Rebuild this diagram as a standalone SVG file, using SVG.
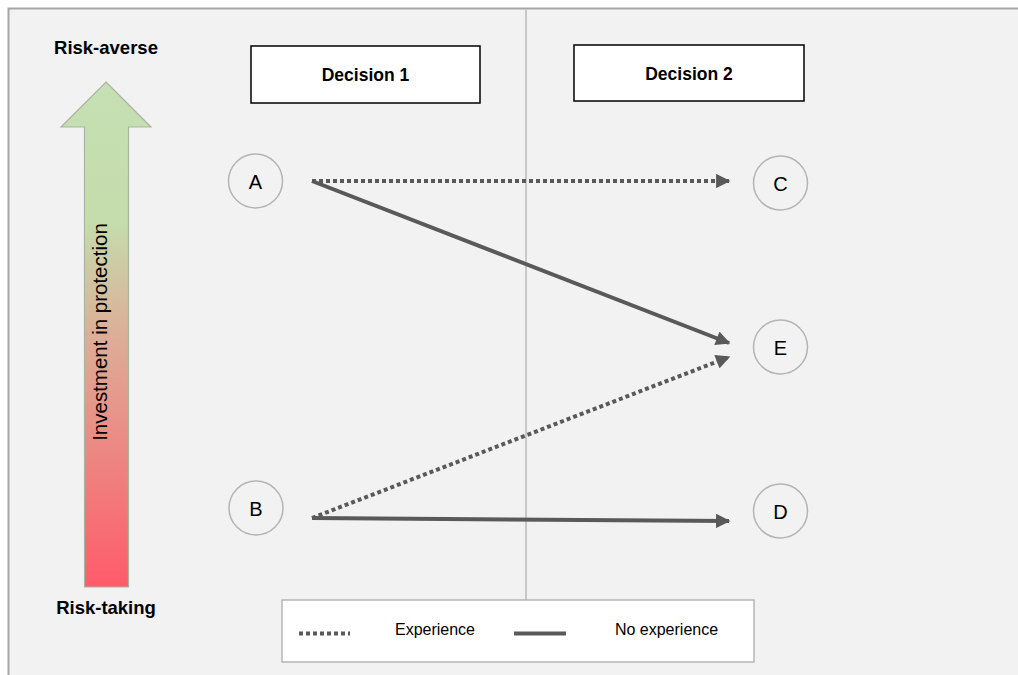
<svg xmlns="http://www.w3.org/2000/svg" width="1018" height="675" viewBox="0 0 1018 675">
<defs>
<style>
.t{font-family:"Liberation Sans","DejaVu Sans",sans-serif;fill:#000}
.b{font-weight:bold}
.node circle{fill:#f2f2f2;stroke:#b4b4b4;stroke-width:1.5}
.node text{font-family:"Liberation Sans",sans-serif;font-size:20px;text-anchor:middle;fill:#000}
.hdr rect{fill:#fff;stroke:#000;stroke-width:1.5}
.c{stroke:#595959;stroke-width:4;fill:none}
.d{stroke-dasharray:4 3}
</style>
<linearGradient id="g" x1="0" y1="0" x2="0" y2="1">
<stop offset="0" stop-color="#c5e0b4"/>
<stop offset="0.28" stop-color="#c5dcab"/>
<stop offset="0.5" stop-color="#dcae98"/>
<stop offset="1" stop-color="#ff5b6a"/>
</linearGradient>
<marker id="ah" viewBox="0 0 10 10" refX="9" refY="5" markerWidth="4" markerHeight="3.6" orient="auto" markerUnits="strokeWidth">
<path d="M0,0 L10,5 L0,10 Z" fill="#595959"/>
</marker>
</defs>
<rect x="0" y="0" width="1018" height="675" fill="#ffffff"/>
<rect x="8.5" y="8.5" width="1020" height="680" fill="#f2f2f2" stroke="#a6a6a6" stroke-width="2"/>
<line x1="526" y1="10" x2="526" y2="600" stroke="#c8c8c8" stroke-width="2"/>

<g id="scale">
<path d="M106,82 L151,127 L128.5,127 L128.5,587 L84.5,587 L84.5,127 L61,127 Z" fill="url(#g)" stroke="#a9b4a3" stroke-width="1.2"/>
<text class="t" transform="translate(107,332) rotate(-90)" font-size="20.5" text-anchor="middle">Investment in protection</text>
<text class="t b" x="106" y="54" font-size="18.5" text-anchor="middle">Risk-averse</text>
<text class="t b" x="106" y="614" font-size="18.5" text-anchor="middle">Risk-taking</text>
</g>

<g id="decision1" class="hdr">
<rect x="251" y="46" width="229" height="57"/>
<text class="t b" x="365.5" y="81" font-size="17.5" text-anchor="middle">Decision 1</text>
</g>
<g id="decision2" class="hdr">
<rect x="574" y="45" width="230" height="56"/>
<text class="t b" x="689" y="80" font-size="17.5" text-anchor="middle">Decision 2</text>
</g>

<g id="nodeA" class="node"><circle cx="255.5" cy="181" r="27"/><text x="255.5" y="188.5">A</text></g>
<g id="nodeB" class="node"><circle cx="256" cy="508" r="27"/><text x="256" y="515.5">B</text></g>
<g id="nodeC" class="node"><circle cx="780.5" cy="183" r="27"/><text x="780.5" y="190.5">C</text></g>
<g id="nodeE" class="node"><circle cx="780.5" cy="347" r="27"/><text x="780.5" y="354.5">E</text></g>
<g id="nodeD" class="node"><circle cx="780.5" cy="511" r="27"/><text x="780.5" y="518.5">D</text></g>

<g id="connectors">
<line class="c d" x1="312" y1="181" x2="729" y2="181" marker-end="url(#ah)"/>
<line class="c" x1="312" y1="181" x2="729" y2="343" marker-end="url(#ah)"/>
<line class="c d" x1="312" y1="518" x2="729" y2="357" marker-end="url(#ah)"/>
<line class="c" x1="312" y1="518" x2="729" y2="521" marker-end="url(#ah)"/>
</g>

<g id="legend">
<rect x="282" y="600" width="472" height="62" fill="#fff" stroke="#a6a6a6" stroke-width="1.2"/>
<line class="c d" x1="299" y1="633.5" x2="350" y2="633.5"/>
<text class="t" x="435" y="635" font-size="16" text-anchor="middle">Experience</text>
<line class="c" x1="514" y1="633.5" x2="566" y2="633.5"/>
<text class="t" x="666.5" y="635" font-size="16" text-anchor="middle">No experience</text>
</g>
</svg>
